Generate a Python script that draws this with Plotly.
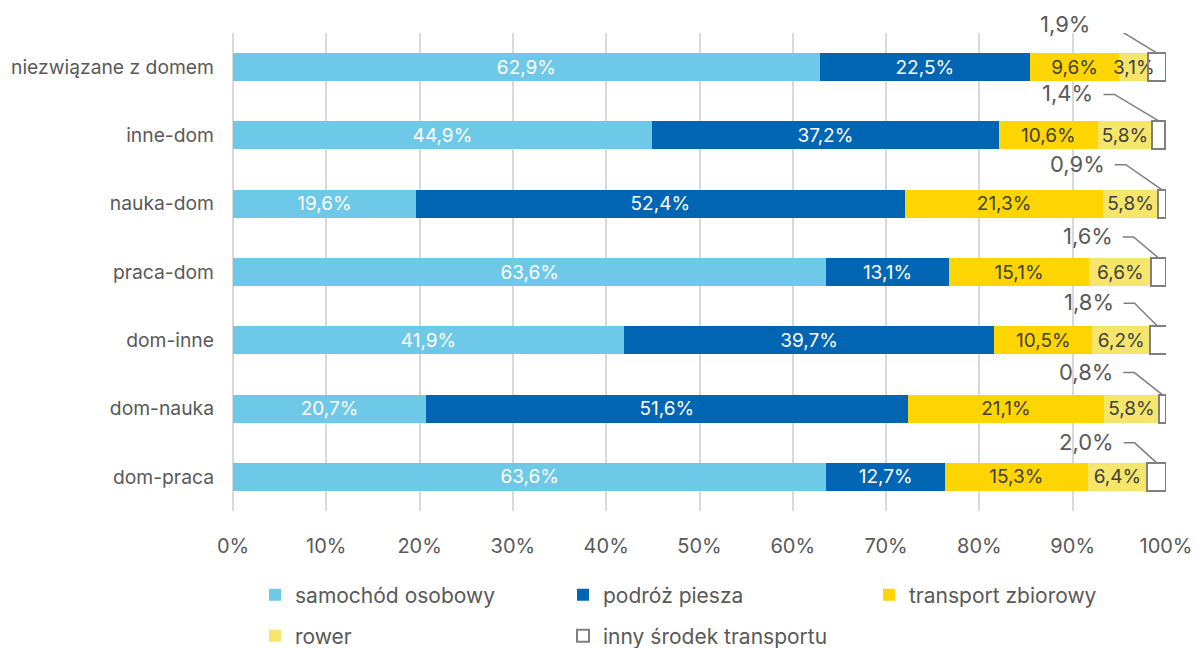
import plotly.graph_objects as go

# Trip purposes (top to bottom) and modal split shares in percent
categories = [
    "niezwiązane z domem",
    "inne-dom",
    "nauka-dom",
    "praca-dom",
    "dom-inne",
    "dom-nauka",
    "dom-praca",
]
series_names = [
    "samochód osobowy",
    "podróż piesza",
    "transport zbiorowy",
    "rower",
    "inny środek transportu",
]
samochod = [62.9, 44.9, 19.6, 63.6, 41.9, 20.7, 63.6]
piesza = [22.5, 37.2, 52.4, 13.1, 39.7, 51.6, 12.7]
zbiorowy = [9.6, 10.6, 21.3, 15.1, 10.5, 21.1, 15.3]
rower = [3.1, 5.8, 5.8, 6.6, 6.2, 5.8, 6.4]
inny = [1.9, 1.4, 0.9, 1.6, 1.8, 0.8, 2.0]

x_ticks = list(range(0, 101, 10))
x_tick_labels = [f"{t}%" for t in x_ticks]

# Styling
FONT = "Inter"
TEXT = "#595959"
fills = ["#6EC8E8", "#0066B3", "#FFD500", "#F5E66B", "rgba(255,255,255,0)"]
label_colors = ["#FFFFFF", "#FFFFFF", "#404040", "#404040", "#404040"]
BAR_W = 0.41
W, H = 1198, 648
# leader-line elbow offsets (px) for the outside labels of the last series
elbows = [(-46, 28), (-45, 27), (-36, 25), (-25, 21), (-23, 23), (-28, 22), (-22, 20)]
H_LEN = 11
GAP = 8
# legend entries laid out as a 3-column grid: (left px, centre y px)
legend_slots = [(255, 595), (563, 595), (869, 595), (255, 636), (563, 636)]

ypos = list(range(len(categories)))
values = [samochod, piesza, zbiorowy, rower, inny]

fig = go.Figure()
for i, (name, vals) in enumerate(zip(series_names, values)):
    last = i == len(values) - 1
    fig.add_trace(go.Bar(
        y=ypos,
        x=vals,
        name=name,
        orientation="h",
        width=BAR_W,
        marker=dict(
            color=fills[i],
            line=dict(color="#7F7F7F" if last else fills[i], width=2 if last else 0),
        ),
        texttemplate=None if last else "%{x:.1f}%",
        textposition="none" if last else "inside",
        insidetextanchor="middle",
        textangle=0,
        constraintext="none",
        insidetextfont=dict(family=FONT, size=19, color=label_colors[i]),
        legend="legend" if i == 0 else f"legend{i + 1}",
        hoverinfo="skip",
    ))

# outside labels with elbow leader lines for the smallest segment
for k, v in enumerate(inny):
    x_mid = 100 - v / 2
    y_top = ypos[k] - BAR_W / 2
    dx, dy = elbows[k]
    fig.add_shape(
        type="path",
        xref="x", yref="y",
        xsizemode="pixel", ysizemode="pixel",
        xanchor=x_mid, yanchor=y_top,
        path=f"M0,0 L{dx},{dy} L{dx - H_LEN},{dy}",
        line=dict(color="#7F7F7F", width=1.5),
    )
    fig.add_annotation(
        xref="x", yref="y",
        x=x_mid, y=y_top,
        xshift=dx - H_LEN - GAP, yshift=dy + 1,
        xanchor="right", yanchor="middle",
        text=f"{v:.1f}".replace(".", ",") + "%",
        showarrow=False,
        font=dict(family=FONT, size=22, color=TEXT),
    )

legends = {}
for i, (lx, ly) in enumerate(legend_slots):
    key = "legend" if i == 0 else f"legend{i + 1}"
    legends[key] = dict(
        xref="container", yref="container",
        x=lx / W, xanchor="left",
        y=1 - ly / H, yanchor="middle",
        orientation="h",
        font=dict(family=FONT, size=21, color=TEXT),
        bgcolor="rgba(0,0,0,0)",
        borderwidth=0,
    )

fig.update_layout(
    width=W, height=H,
    barmode="stack",
    separators=", ",
    paper_bgcolor="white",
    plot_bgcolor="white",
    margin=dict(l=233, r=32, t=33, b=137, autoexpand=False),
    font=dict(family=FONT, color=TEXT, size=19),
    xaxis=dict(
        range=[0, 100],
        tickmode="array",
        tickvals=x_ticks,
        ticktext=x_tick_labels,
        showgrid=True,
        gridcolor="#D9D9D9",
        gridwidth=2,
        zeroline=True,
        zerolinecolor="#D9D9D9",
        zerolinewidth=2,
        showline=False,
        ticks="",
        ticklabelstandoff=21,
        tickfont=dict(size=20, color=TEXT),
        fixedrange=True,
    ),
    yaxis=dict(
        range=[len(categories) - 0.5, -0.5],
        tickmode="array",
        tickvals=ypos,
        ticktext=categories,
        showgrid=False,
        zeroline=False,
        showline=False,
        ticks="",
        ticklabelstandoff=18,
        tickfont=dict(size=19.3, color=TEXT),
        fixedrange=True,
    ),
    showlegend=True,
    **legends,
)

fig.write_html("out.html", config={"displayModeBar": False})
